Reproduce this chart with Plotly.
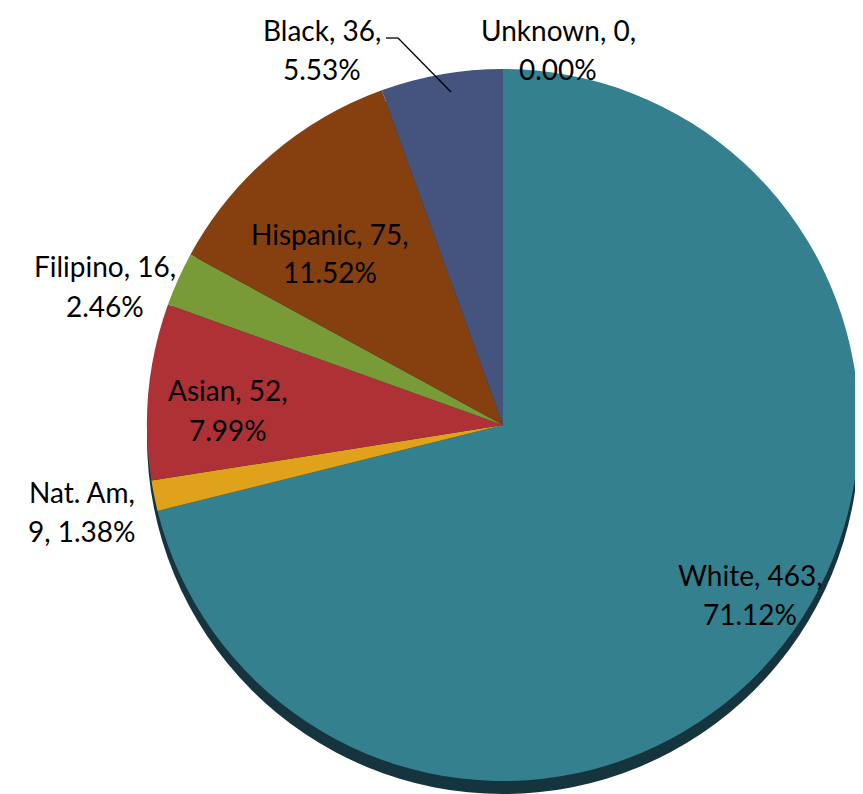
import plotly.graph_objects as go

# Data (clockwise from 12 o'clock)
categories = ["Unknown", "White", "Nat. Am", "Asian", "Filipino", "Hispanic", "Black"]
values = [0, 463, 9, 52, 16, 75, 36]
colors = ["#3B4A78", "#34808F", "#E0A11B", "#AE3136", "#789A37", "#86400F", "#45547E"]

total = sum(values)
pct = [v / total * 100 for v in values]

W, H = 863, 794
cx, cy, r = 495, 417, 356  # pixel layout of the pie
shadow = 13


def dom(cx, cy, r):
    return dict(x=[(cx - r) / W, (cx + r) / W],
                y=[(H - cy - r) / H, (H - cy + r) / H])


fig = go.Figure()
# dark rim under the pie (3D edge)
fig.add_trace(go.Pie(values=[1], labels=["rim"], marker=dict(colors=["#16343E"], line=dict(width=0)),
                     textinfo="none", hoverinfo="skip", sort=False, showlegend=False,
                     domain=dom(cx, cy + shadow, r)))
fig.add_trace(go.Pie(values=values, labels=categories, sort=False, direction="clockwise", rotation=0,
                     marker=dict(colors=colors, line=dict(width=0)),
                     textinfo="none", showlegend=False, domain=dom(cx, cy, r)))

# label block centres (pixels)
label_pos = {
    "Unknown": (550, 41),
    "White": (742, 586),
    "Nat. Am": (74, 503),
    "Asian": (220, 402),
    "Filipino": (97, 278),
    "Hispanic": (322, 245),
    "Black": (314, 41),
}
line_gap = 39

for c, v, p in zip(categories, values, pct):
    if c == "Nat. Am":
        lines = [f"{c},", f"{v}, {p:.2f}%"]
    else:
        lines = [f"{c}, {v},", f"{p:.2f}%"]
    x, y = label_pos[c]
    for i, t in enumerate(lines):
        yy = y + (i - 0.5) * line_gap
        fig.add_annotation(x=x / W, y=1 - yy / H, xref="paper", yref="paper", text=t,
                           showarrow=False, xanchor="center", yanchor="middle",
                           font=dict(family="Lato", size=28, color="#000000"))

# leader line for Black
pts = [(378, 30), (390, 30), (443, 84)]
for (x0, y0), (x1, y1) in zip(pts[:-1], pts[1:]):
    fig.add_shape(type="line", xref="paper", yref="paper",
                  x0=x0 / W, y0=1 - y0 / H, x1=x1 / W, y1=1 - y1 / H,
                  line=dict(color="#000000", width=1.3))

fig.update_layout(width=W, height=H, margin=dict(l=0, r=0, t=0, b=0),
                  paper_bgcolor="white", plot_bgcolor="white")
fig.write_html("out.html")
